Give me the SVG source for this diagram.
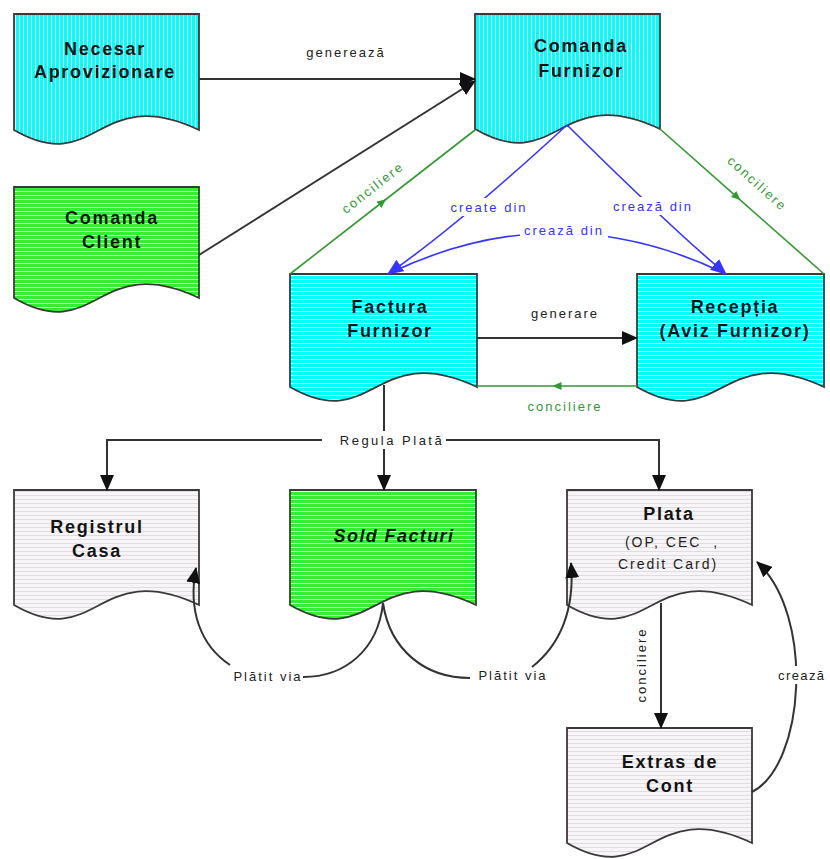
<svg xmlns="http://www.w3.org/2000/svg" width="830" height="859" viewBox="0 0 830 859">
<style>
.doc{stroke:#3a3a3a;stroke-width:1.8}
.t{font-family:"Liberation Sans",Arial,sans-serif;font-weight:bold;font-size:18px;letter-spacing:1.7px;fill:#141414;text-anchor:middle}
.s{font-family:"Liberation Sans",Arial,sans-serif;font-size:13px;letter-spacing:2px;fill:#222;text-anchor:middle}
.sub{font-family:"Liberation Sans",Arial,sans-serif;font-size:14px;letter-spacing:2px;fill:#1e1e1e;text-anchor:middle;white-space:pre}
.blk{fill:none;stroke:#333;stroke-width:2}
.blu{fill:none;stroke:#3535ff;stroke-width:1.6}
.grn{fill:none;stroke:#339933;stroke-width:1.6}
.bt{fill:#3535ff}
.gt{fill:#339933}
.bg{fill:#fff}
</style>
<defs>
<pattern id="cyanV" width="4" height="4" patternUnits="userSpaceOnUse"><rect width="4" height="4" fill="#00ffff"/><rect x="3" width="1" height="4" fill="#e6ffff"/></pattern>
<pattern id="cyanH" width="4" height="4" patternUnits="userSpaceOnUse"><rect width="4" height="4" fill="#00ffff"/><rect y="3" width="4" height="1" fill="#e6ffff"/></pattern>
<pattern id="greenH" width="4" height="4" patternUnits="userSpaceOnUse"><rect width="4" height="4" fill="#33ee33"/><rect y="3" width="4" height="1" fill="#d6ffd6"/></pattern>
<pattern id="grayH" width="4" height="4" patternUnits="userSpaceOnUse"><rect width="4" height="4" fill="#f8f5f8"/><rect y="3" width="4" height="1" fill="#e0dce0"/></pattern>
<marker id="ab" viewBox="0 0 16 14" refX="15" refY="7" markerWidth="16" markerHeight="14" markerUnits="userSpaceOnUse" orient="auto"><path d="M0,0 L16,7 L0,14 z" fill="#111"/></marker>
<marker id="abl" viewBox="0 0 16 14" refX="15" refY="7" markerWidth="16" markerHeight="14" markerUnits="userSpaceOnUse" orient="auto"><path d="M0,0 L16,7 L0,14 z" fill="#3535ff"/></marker>
<marker id="agm" viewBox="0 0 9 8" refX="4.5" refY="4" markerWidth="9" markerHeight="8" markerUnits="userSpaceOnUse" orient="auto"><path d="M0,0 L9,4 L0,8 z" fill="#339933"/></marker>
</defs>
<rect width="830" height="859" fill="#fff"/>

<g id="necesar">
  <path class="doc" fill="url(#cyanV)" d="M14,14 H199 V130 C97,82 97,178 14,130 Z"/>
  <text class="t" x="105" y="55">Necesar</text>
  <text class="t" x="105" y="78">Aprovizionare</text>
</g>
<g id="comanda-client">
  <path class="doc" fill="url(#greenH)" d="M14,187 H199 V298 C97,250 97,346 14,298 Z"/>
  <text class="t" x="112" y="224">Comanda</text>
  <text class="t" x="112" y="248">Client</text>
</g>
<g id="comanda-furnizor">
  <path class="doc" fill="url(#cyanV)" d="M475,14 H660 V129 C558,81 558,177 475,129 Z"/>
  <text class="t" x="581" y="52">Comanda</text>
  <text class="t" x="581" y="77">Furnizor</text>
</g>
<g id="factura-furnizor">
  <path class="doc" fill="url(#cyanH)" d="M290,274 H477 V387 C374,339 374,435 290,387 Z"/>
  <text class="t" x="390" y="313">Factura</text>
  <text class="t" x="390" y="337">Furnizor</text>
</g>
<g id="receptia">
  <path class="doc" fill="url(#cyanH)" d="M637,274 H824 V387 C721,339 721,435 637,387 Z"/>
  <text class="t" x="735" y="313">Recepția</text>
  <text class="t" x="735" y="337">(Aviz Furnizor)</text>
</g>
<g id="registrul-casa">
  <path class="doc" fill="url(#grayH)" d="M14,490 H199 V605 C97,557 97,653 14,605 Z"/>
  <text class="t" x="97" y="533">Registrul</text>
  <text class="t" x="97" y="557">Casa</text>
</g>
<g id="sold-facturi">
  <path class="doc" fill="url(#greenH)" d="M290,490 H476 V605 C374,557 374,653 290,605 Z"/>
  <text class="t" x="394" y="542" font-style="italic" style="letter-spacing:1.4px">Sold Facturi</text>
</g>
<g id="plata">
  <path class="doc" fill="url(#grayH)" d="M567,490 H752 V605 C650,557 650,653 567,605 Z"/>
  <text class="t" x="669" y="520">Plata</text>
  <text class="sub" x="672" y="547">(OP, CEC  ,</text>
  <text class="sub" x="668" y="569">Credit Card)</text>
</g>
<g id="extras-cont">
  <path class="doc" fill="url(#grayH)" d="M567,728 H752 V843 C650,795 650,891 567,843 Z"/>
  <text class="t" x="670" y="768">Extras de</text>
  <text class="t" x="670" y="792">Cont</text>
</g>

<g id="connectors">
  <path class="blk" d="M199,79 H475" marker-end="url(#ab)"/>
  <path class="blk" d="M199,255 L475,81" marker-end="url(#ab)"/>
  <path class="grn" d="M290,274 L382.5,202 L475,130" marker-mid="url(#agm)"/>
  <path class="grn" d="M660,129 L737,197.1 L824,274" marker-mid="url(#agm)"/>
  <path class="blu" d="M567,125 Q455,228 388,274" marker-end="url(#abl)"/>
  <path class="blu" d="M567,125 Q670,227 726,274" marker-end="url(#abl)"/>
  <path class="blu" d="M388,274 Q557,192 726,274"/>
  <path class="blk" d="M477,338 H637" marker-end="url(#ab)"/>
  <path class="grn" d="M637,386 L557,386 L477,386" marker-mid="url(#agm)"/>
  <path class="blk" d="M384,385 V490" marker-end="url(#ab)"/>
  <path class="blk" d="M107,440 H659"/>
  <path class="blk" d="M107,439 V490" marker-end="url(#ab)"/>
  <path class="blk" d="M659,439 V490" marker-end="url(#ab)"/>
  <path class="blk" d="M383,603 C378,650 345,677 303,677"/>
  <path class="blk" d="M230,665 C200,645 188,610 196,568" marker-end="url(#ab)"/>
  <path class="blk" d="M383,603 C390,650 425,678 470,678"/>
  <path class="blk" d="M532,667 C560,645 575,610 571,563" marker-end="url(#ab)"/>
  <path class="blk" d="M661,603 V728" marker-end="url(#ab)"/>
  <path class="blk" d="M752,792 C805,765 815,615 757,562" marker-end="url(#ab)"/>

  <text class="s" x="346" y="57">generează</text>
  <text class="s gt" x="373" y="192" transform="rotate(-38 373 188)">conciliere</text>
  <text class="s gt" x="757" y="188" transform="rotate(42 757 184)">conciliere</text>
  <rect class="bg" x="446" y="198" width="84" height="18"/>
  <text class="s bt" x="489" y="212">create din</text>
  <rect class="bg" x="610" y="197" width="86" height="18"/>
  <text class="s bt" x="653" y="211">crează din</text>
  <rect class="bg" x="520" y="222" width="88" height="17"/>
  <text class="s bt" x="564" y="235">crează din</text>
  <text class="s" x="565" y="318">generare</text>
  <text class="s gt" x="565" y="411">conciliere</text>
  <rect class="bg" x="322" y="431" width="124" height="18"/>
  <text class="s" x="392" y="445" style="letter-spacing:2.5px">Regula Plată</text>
  <text class="s" x="268" y="681">Plătit via</text>
  <text class="s" x="513" y="680">Plătit via</text>
  <text class="s" x="642" y="665" transform="rotate(-90 642 665)" dy="4">conciliere</text>
  <rect class="bg" x="776" y="666" width="54" height="18"/>
  <text class="s" x="778" y="680" style="text-anchor:start;letter-spacing:1.4px">crează</text>
</g>
</svg>
